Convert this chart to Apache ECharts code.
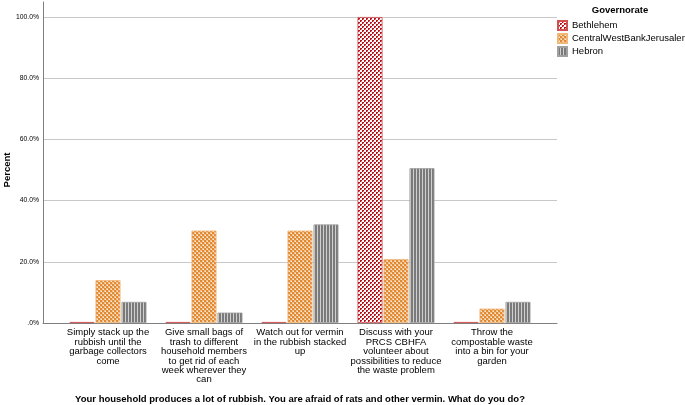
<!DOCTYPE html>
<html><head><meta charset="utf-8">
<script src="https://cdn.jsdelivr.net/npm/echarts@6/dist/echarts.min.js"></script>
<style>html,body{margin:0;padding:0;background:#fff}#c{width:685px;height:405px}</style>
</head><body><div id="c"></div>
<script>
var categories = [
  "Simply stack up the\nrubbish until the\ngarbage collectors\ncome",
  "Give small bags of\ntrash to different\nhousehold members\nto get rid of each\nweek wherever they\ncan",
  "Watch out for vermin\nin the rubbish stacked\nup",
  "Discuss with your\nPRCS CBHFA\nvolunteer about\npossibilities to reduce\nthe waste problem",
  "Throw the\ncompostable waste\ninto a bin for your\ngarden"
];
var seriesNames = ["Bethlehem", "CentralWestBankJerusalem", "Hebron"];
var bethlehem = [0, 0, 0, 100, 0];
var central = [14.0, 30.2, 30.2, 20.9, 4.7];
var hebron = [6.9, 3.4, 32.2, 50.6, 6.9];
var yTicks = [0, 20, 40, 60, 80, 100];

function pattern(kind) {
  var c = document.createElement('canvas');
  var ctx = c.getContext('2d');
  if (kind === 'check') {
    c.width = 4; c.height = 4;
    ctx.fillStyle = '#b5121b'; ctx.fillRect(0,0,2,2); ctx.fillRect(2,2,2,2);
    ctx.fillStyle = '#ffffff'; ctx.fillRect(2,0,2,2); ctx.fillRect(0,2,2,2);
    ctx.fillStyle = '#e58c8c'; ctx.fillRect(1,1,1,1); ctx.fillRect(3,3,1,1);
  } else if (kind === 'hatch') {
    c.width = 4; c.height = 4;
    ctx.fillStyle = '#e08a36'; ctx.fillRect(0,0,4,4);
    ctx.fillStyle = '#f3c08a'; ctx.fillRect(2,0,2,2); ctx.fillRect(0,2,2,2);
    ctx.fillStyle = '#fdeedd'; ctx.fillRect(3,1,1,1); ctx.fillRect(1,3,1,1);
  } else {
    c.width = 3; c.height = 3;
    ctx.fillStyle = '#7a7a7a'; ctx.fillRect(0,0,3,3);
    ctx.fillStyle = '#d0d0d0'; ctx.fillRect(2,0,1,3);
  }
  return {image: c, repeat: 'repeat'};
}
var fills = [pattern('check'), pattern('hatch'), pattern('stripe')];
var borders = ['#d05050', '#f0b878', '#a0a0a0'];
var datas = [bethlehem, central, hebron];

var chart = echarts.init(document.getElementById('c'), null, {renderer: 'canvas'});
var series = seriesNames.map(function (n, i) {
  return {
    name: n, type: 'bar', xAxisIndex: 2, yAxisIndex: 2,
    data: datas[i], barWidth: 25, barGap: '4%', barMinHeight: 1,
    itemStyle: {color: fills[i], borderColor: borders[i], borderWidth: 0.8},
    emphasis: {disabled: true}, animation: false
  };
});

chart.setOption({
  animation: false,
  grid: [
    {left: 43, right: 128, top: 17, bottom: 82, outerBoundsMode: 'none', containLabel: false},
    {left: 43, right: 128, top: 2, bottom: 82, outerBoundsMode: 'none', containLabel: false},
    {left: 60, right: 145, top: 17, bottom: 82, outerBoundsMode: 'none', containLabel: false}
  ],
  xAxis: [
    {gridIndex: 0, type: 'value', min: 0, max: 1, axisLine: {show: true, onZero: false, lineStyle: {color: '#7f7f7f', width: 1}}, axisTick: {show: false}, axisLabel: {show: false}, splitLine: {show: false}},
    {gridIndex: 1, type: 'value', min: 0, max: 1, show: false},
    {gridIndex: 2, type: 'category', data: categories, axisLine: {show: false}, axisTick: {show: false},
     axisLabel: {interval: 0, color: '#000', fontFamily: 'Liberation Sans, Arial', fontSize: 9.5, lineHeight: 9.4, margin: 5},
     name: 'Your household produces a lot of rubbish. You are afraid of rats and other vermin. What do you do?',
     nameLocation: 'middle', nameGap: 71,
     nameTextStyle: {color: '#000', fontFamily: 'Liberation Sans, Arial', fontWeight: 'bold', fontSize: 9.5}}
  ],
  yAxis: [
    {gridIndex: 0, type: 'value', min: 0, max: 100, interval: 20,
     axisLine: {show: false}, axisTick: {show: false},
     axisLabel: {color: '#000', fontFamily: 'Liberation Sans, Arial', fontSize: 6.8, margin: 4,
       formatter: function (v) { return v === 0 ? '.0%' : v.toFixed(1) + '%'; }},
     splitLine: {lineStyle: {color: '#c8c8c8', width: 1}}},
    {gridIndex: 1, type: 'value', min: 0, max: 1, axisLine: {show: true, lineStyle: {color: '#7f7f7f', width: 1}}, axisTick: {show: false}, axisLabel: {show: false}, splitLine: {show: false}},
    {gridIndex: 2, type: 'value', min: 0, max: 100, show: false}
  ],
  legend: {
    show: true, orient: 'vertical', left: 557, top: 20, padding: 0, itemWidth: 9, itemHeight: 9, itemGap: 2,
    icon: 'rect', selectedMode: false,
    textStyle: {color: '#000', fontFamily: 'Liberation Sans, Arial', fontSize: 9.5, lineHeight: 10},
    data: seriesNames
  },
  graphic: [
    {type: 'text', x: 620, y: 5, style: {text: 'Governorate', font: 'bold 9.5px "Liberation Sans", Arial', fill: '#000', align: 'center'}},
    {type: 'text', x: 7, y: 170, rotation: Math.PI / 2, style: {text: 'Percent', font: 'bold 9.5px "Liberation Sans", Arial', fill: '#000', align: 'center', verticalAlign: 'middle'}}
  ],
  series: series
});
</script></body></html>
